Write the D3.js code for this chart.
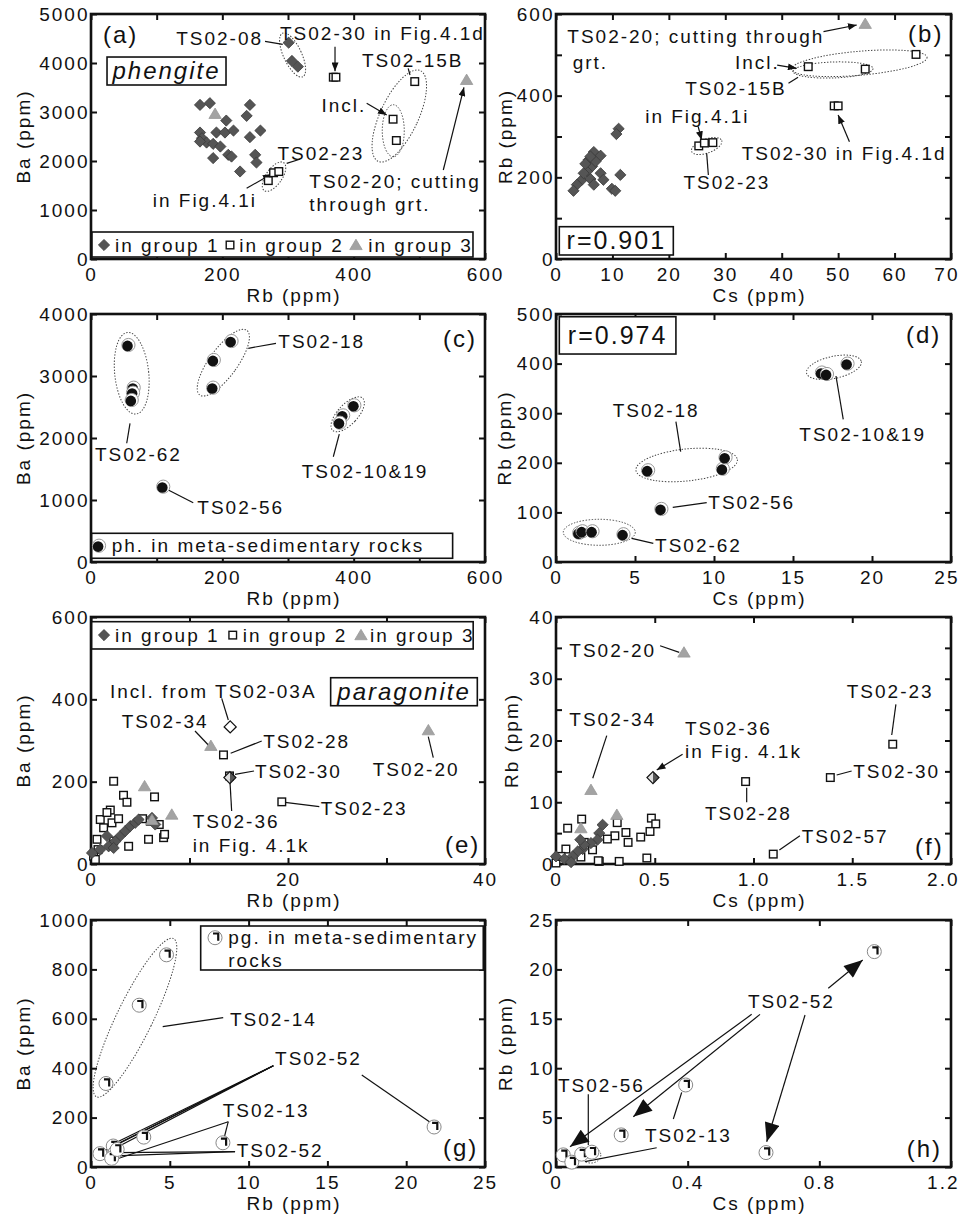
<!DOCTYPE html>
<html>
<head>
<meta charset="utf-8">
<script src="https://cdn.jsdelivr.net/npm/d3@7"></script>
<style>
  body { margin: 0; background: #fff; }
  text { font-family: 'Liberation Sans', Arial, Helvetica, sans-serif; }
</style>
</head>
<body>
<div id="chart"></div>
<script>
// ---------------- data ----------------
// (a) phengite, Rb vs Ba
var phA_group1 = [[301,4415],[306,4042],[315,3926],[166,3145],[181,3180],[242,3145],[237,2921],[206,2825],
  [166,2581],[169,2466],[191,2581],[204,2581],[217,2621],[258,2621],[242,2487],[176,2377],[186,2350],
  [197,2295],[166,2397],[186,2059],[209,2126],[214,2091],[250,2126],[252,1969],[227,1786]];
var phA_group2 = [[369,3710],[373,3710],[493,3621],[460,2853],[465,2418],[270,1600],[278,1760],[286,1785]];
var phA_group3 = [[189,2962],[572,3655]];

// (b) phengite, Cs vs Rb
var phB_group1 = [[11.1,319],[10.7,306],[6.7,262],[7.9,253],[5.8,243],[6.4,227],[5.5,214],[7.9,210],[4.6,194],
  [6.1,196],[6.7,182],[3.7,182],[3.1,167],[8.4,194],[11.4,206],[9.9,172],[10.5,167],[4.9,210],[7.0,239],
  [6.1,251],[5.2,233]];
var phB_group2 = [[44.7,471],[54.8,465],[63.8,501],[49.3,375],[50.0,375],[25.3,277],[26.3,284],[27.8,285]];
var phB_group3 = [[54.8,576]];

// (c) ph. in meta-sedimentary rocks, Rb vs Ba
var phC_sed = [[57,3500],[65,2812],[64,2731],[62,2613],[187,3258],[214,3564],[186,2812],[384,2365],
  [379,2247],[401,2527],[110,1215]];
// (d) ph. in meta-sedimentary rocks, Cs vs Rb
var phD_sed = [[1.47,59],[1.68,62],[2.31,62],[4.27,56],[5.83,185],[10.56,188],[10.73,211],[6.67,107],
  [16.83,382],[17.15,379],[18.45,400]];

// (e) paragonite, Rb vs Ba
var pgE_group1 = [[2.97,68],[3.48,80],[3.99,92],[4.49,100],[4.83,108],[1.62,68],[1.79,43],[0.94,35],[0.1,27],
  [2.46,55],[6.19,112],[6.52,96],[2.3,39]];
var pgE_group2 = [[13.45,265],[14.06,214],[19.37,151],[2.3,201],[3.3,167],[3.65,150],[6.45,163],[1.96,131],
  [0.94,108],[1.62,125],[2.13,100],[2.8,110],[1.28,88],[5.24,110],[6.02,104],[6.93,96],[5.84,60],[7.37,64],
  [7.47,72],[3.82,43],[2.3,56],[0.61,60],[0.71,35],[0.26,19],[0.44,11]];
var pgE_group3 = [[12.17,287],[34.25,325],[5.44,189],[8.2,120],[6.19,107]];
var pgE_incl = [[14.13,333]];
var pgE_ts0236 = [[14.1,210]];

// (f) paragonite, Cs vs Rb
var pgF_group1 = [[0.236,6.35],[0.219,5.0],[0.21,3.93],[0.177,3.39],[0.135,2.42],[0.143,3.12],[0.11,2.04],
  [0.084,1.23],[0.042,0.81],[0.0,1.23],[0.076,0.3],[0.123,3.93]];
var pgF_group2 = [[0.96,13.35],[1.705,19.4],[1.389,14.0],[1.1,1.6],[0.31,6.7],[0.13,7.27],[0.059,5.8],
  [0.483,7.43],[0.505,6.5],[0.476,5.27],[0.429,4.36],[0.46,0.97],[0.354,5.1],[0.365,3.5],[0.298,4.57],
  [0.26,4.04],[0.219,0.42],[0.32,0.42],[0.143,3.5],[0.185,2.3],[0.126,1.13],[0.05,2.42],[0.0,0.16],
  [0.025,1.23],[0.214,0.53]];
var pgF_group3 = [[0.648,34.25],[0.177,12.0],[0.308,7.97],[0.126,5.8]];
var pgF_ts0236 = [[0.491,14.0]];

// (g) pg. in meta-sedimentary rocks, Rb vs Ba
var pgG_sed = [[4.79,859],[3.06,655],[0.95,338],[21.77,162],[8.37,98],[3.35,121],[0.57,54],[1.41,85],
  [1.52,58],[1.31,35],[1.66,71]];
// (h) pg. in meta-sedimentary rocks, Cs vs Rb
var pgH_sed = [[0.967,21.8],[0.394,8.3],[0.198,3.25],[0.638,1.46],[0.022,1.23],[0.048,0.49],[0.078,1.3],[0.109,1.5]];

// ticks
var ticksRb600 = [0,100,200,300,400,500,600], labRb600 = [0,200,400,600];
var ticksBa5000 = [0,1000,2000,3000,4000,5000];
var ticksCs70 = [0,10,20,30,40,50,60,70];
var ticksRb600y = [0,100,200,300,400,500,600], labRb600y = [0,200,400,600];
var ticksBa4000 = [0,1000,2000,3000,4000];
var ticksCs25 = [0,5,10,15,20,25];
var ticksRb500 = [0,100,200,300,400,500];
var ticksRb40 = [0,10,20,30,40], labRb40 = [0,20,40];
var ticksBa600 = [0,200,400,600];
var ticksCs2 = [0,0.5,1,1.5,2];
var ticksRb40y = [0,5,10,15,20,25,30,35,40], labRb40y = [0,10,20,30,40];
var ticksRb25 = [0,5,10,15,20,25];
var ticksBa1000 = [0,200,400,600,800,1000];
var ticksCs12 = [0,0.4,0.8,1.2];

// ---------------- setup ----------------
var FONT = "'Liberation Sans', Arial, Helvetica, sans-serif";
var LS = 2.0;
var INK = "#111";
var PAGE_W = 961;

var svg = d3.select("#chart").append("svg")
  .attr("width", PAGE_W)
  .attr("height", 1216);

var defs = svg.append("defs");
defs.append("marker").attr("id", "arr")
  .attr("viewBox", "0 0 10 8").attr("refX", 10).attr("refY", 4)
  .attr("markerWidth", 9).attr("markerHeight", 7)
  .attr("markerUnits", "userSpaceOnUse").attr("orient", "auto")
  .append("path").attr("d", "M0,0L10,4L0,8Z").attr("fill", INK);
defs.append("marker").attr("id", "big")
  .attr("viewBox", "0 0 10 8").attr("refX", 10).attr("refY", 4)
  .attr("markerWidth", 20).attr("markerHeight", 15)
  .attr("markerUnits", "userSpaceOnUse").attr("orient", "auto")
  .append("path").attr("d", "M0,0L10,4L0,8Z").attr("fill", INK);

// one framed scatter panel with mirrored inside ticks
function makePanel(o) {
  var x = d3.scaleLinear().domain(o.xDom).range([o.left, o.left + o.w]);
  var y = d3.scaleLinear().domain(o.yDom).range([o.top + o.h, o.top]);
  var g = svg.append("g");
  var fx = o.xFmt || function(d) { return d; };
  var fy = o.yFmt || function(d) { return d; };

  var axes = g.append("g");
  var bottom = axes.append("g").attr("transform", "translate(0," + (o.top + o.h) + ")")
    .call(d3.axisBottom(x).tickValues(o.xTicks).tickSize(-6).tickPadding(9)
      .tickFormat(function(d) { return o.xLab.indexOf(d) >= 0 ? fx(d) : ""; }));
  axes.append("g").attr("transform", "translate(0," + o.top + ")")
    .call(d3.axisTop(x).tickValues(o.xTicks).tickSize(-6).tickFormat(""));
  axes.append("g").attr("transform", "translate(" + o.left + ",0)")
    .call(d3.axisLeft(y).tickValues(o.yTicks).tickSize(-6).tickPadding(1.5)
      .tickFormat(function(d) { return o.yLab.indexOf(d) >= 0 ? fy(d) : ""; }));
  axes.append("g").attr("transform", "translate(" + (o.left + o.w) + ",0)")
    .call(d3.axisRight(y).tickValues(o.yTicks).tickSize(-6).tickFormat(""));
  axes.selectAll(".domain").remove();
  axes.selectAll("g").attr("font-family", FONT).attr("font-size", 19);
  axes.selectAll(".tick line").attr("stroke", INK).attr("stroke-width", 2);
  axes.selectAll(".tick text").attr("fill", INK).attr("letter-spacing", LS);

  // keep the last x label inside the page
  bottom.selectAll(".tick").each(function(d) {
    var t = d3.select(this).select("text");
    var b = t.node().getBBox();
    var right = x(d) + b.x + b.width;
    if (right > PAGE_W - 2) t.attr("x", -(right - (PAGE_W - 2)));
  });

  g.append("rect")
    .attr("x", o.left).attr("y", o.top).attr("width", o.w).attr("height", o.h)
    .attr("fill", "none").attr("stroke", INK).attr("stroke-width", 2.6);

  // axis titles
  g.append("text")
    .attr("x", o.left + o.w / 2 + 6).attr("y", o.top + o.h + 43)
    .attr("text-anchor", "middle").attr("font-size", 19).attr("letter-spacing", LS)
    .attr("fill", INK).text(o.xTitle);
  g.append("text")
    .attr("transform", "translate(" + (o.left - o.yOff) + "," + (o.top + o.h / 2) + ") rotate(-90)")
    .attr("dy", "0.35em")
    .attr("text-anchor", "middle").attr("font-size", 19).attr("letter-spacing", LS)
    .attr("fill", INK).text(o.yTitle);

  return { g: g, x: x, y: y, under: g.append("g"), marks: g.append("g"), over: g.append("g") };
}

// marker shapes
function grp1(s) {
  s.append("path").attr("d", "M0,-5.6L5.6,0L0,5.6L-5.6,0Z")
    .attr("fill", "#555").attr("stroke", "#3a3a3a").attr("stroke-width", 0.8);
}
function grp2(s) {
  s.append("rect").attr("x", -3.8).attr("y", -3.8).attr("width", 7.6).attr("height", 7.6)
    .attr("fill", "#fff").attr("stroke", INK).attr("stroke-width", 1.4);
}
function grp3(s) {
  s.append("path").attr("d", "M0,-5.8L6.2,4.6L-6.2,4.6Z")
    .attr("fill", "#a3a3a3").attr("stroke", "#999").attr("stroke-width", 0.8);
}
function openDiamond(s) {
  s.append("path").attr("d", "M0,-6L6,0L0,6L-6,0Z")
    .attr("fill", "#fff").attr("stroke", INK).attr("stroke-width", 1.3);
}
function splitDiamond(s) {
  s.append("path").attr("d", "M0,-6L6,0L0,6Z").attr("fill", "#555");
  s.append("path").attr("d", "M0,-6L-6,0L0,6Z").attr("fill", "#ddd");
  s.append("path").attr("d", "M0,-6L6,0L0,6L-6,0Z")
    .attr("fill", "none").attr("stroke", INK).attr("stroke-width", 1.2);
}
function sedPh(s) {
  s.append("circle").attr("r", 6.6).attr("fill", "#fff").attr("stroke", "#999").attr("stroke-width", 1);
  s.append("circle").attr("r", 5.3).attr("cx", -0.9).attr("cy", 0.9).attr("fill", INK);
}
function sedPg(s) {
  s.append("circle").attr("r", 7).attr("fill", "#fff").attr("stroke", "#888").attr("stroke-width", 1);
  s.append("path").attr("d", "M-2,-4.2H3.2V3").attr("fill", "none")
    .attr("stroke", INK).attr("stroke-width", 2.2);
}

function plot(p, data, shape) {
  p.marks.selectAll(null).data(data).enter().append("g")
    .attr("transform", function(d) { return "translate(" + p.x(d[0]) + "," + p.y(d[1]) + ")"; })
    .each(function() { shape(d3.select(this)); });
}

// annotations, all positioned in data units
function notes(p, list) {
  list.forEach(function(n) {
    p.over.append("text")
      .attr("x", p.x(n.at[0])).attr("y", p.y(n.at[1])).attr("dy", "0.35em")
      .attr("text-anchor", n.anchor || "start")
      .attr("font-size", n.size || 19)
      .attr("letter-spacing", LS)
      .attr("font-style", n.italic ? "italic" : null)
      .attr("fill", INK)
      .text(n.t);
  });
}
function leaders(p, list) {
  list.forEach(function(l) {
    p.under.append("line")
      .attr("x1", p.x(l[0][0])).attr("y1", p.y(l[0][1]))
      .attr("x2", p.x(l[1][0])).attr("y2", p.y(l[1][1]))
      .attr("stroke", INK).attr("stroke-width", 1.2)
      .attr("marker-end", l[2] ? "url(#" + l[2] + ")" : null);
  });
}
function rings(p, list) {
  list.forEach(function(r) {
    p.under.append("ellipse")
      .attr("rx", r.r[0]).attr("ry", r.r[1])
      .attr("transform", "translate(" + p.x(r.c[0]) + "," + p.y(r.c[1]) + ") rotate(" + (r.rot || 0) + ")")
      .attr("fill", "none").attr("stroke", "#444").attr("stroke-width", 1)
      .attr("stroke-dasharray", "1.4,1.6");
  });
}
function boxes(p, list, layer) {
  list.forEach(function(b) {
    (layer || p.under).append("rect")
      .attr("x", p.x(b[0][0])).attr("y", p.y(b[0][1]))
      .attr("width", p.x(b[1][0]) - p.x(b[0][0]))
      .attr("height", p.y(b[1][1]) - p.y(b[0][1]))
      .attr("fill", "#fff").attr("stroke", INK).attr("stroke-width", 1.6);
  });
}
function legendItems(p, items) {
  items.forEach(function(it) {
    var s = p.over.append("g").attr("transform", "translate(" + p.x(it.at[0]) + "," + p.y(it.at[1]) + ")");
    it.shape(s);
  });
}

var oneDec = function(d) { return d === 0 ? "0" : d.toFixed(1); };

// ---------------- (a) ----------------
var pa = makePanel({ left: 91, top: 14, w: 394, h: 245, xDom: [0, 600], yDom: [0, 5000],
  xTicks: ticksRb600, xLab: labRb600, yTicks: ticksBa5000, yLab: ticksBa5000,
  xTitle: "Rb (ppm)", yTitle: "Ba (ppm)", yOff: 68 });
boxes(pa, [[[24.4, 4122], [205.6, 3551]], [[1.5, 551], [581.7, 40.8]]]);
rings(pa, [
  { c: [307, 4163], r: [9, 24], rot: -25 },
  { c: [469.5, 2918], r: [19, 50], rot: 25 },
  { c: [460.3, 2618], r: [11, 26] },
  { c: [278.7, 1680], r: [8, 17], rot: 35 }]);
leaders(pa, [
  [[265, 4440], [292, 4380]],
  [[371.6, 4333], [371.6, 3830], "arr"],
  [[483, 3892], [485.8, 3755]],
  [[419.8, 3178], [450.3, 2939], "arr"],
  [[298, 1953], [318, 2035]],
  [[237, 1443], [275, 1735], "arr"],
  [[536.5, 1816], [568, 3504], "arr"]]);
plot(pa, phA_group1, grp1);
plot(pa, phA_group2, grp2);
plot(pa, phA_group3, grp3);
notes(pa, [
  { t: "(a)", at: [18.3, 4571], size: 24 },
  { t: "TS02-08", at: [262, 4510], anchor: "end" },
  { t: "TS02-30 in Fig.4.1d", at: [287.8, 4612] },
  { t: "TS02-15B", at: [412.7, 4061] },
  { t: "Incl.", at: [351, 3143] },
  { t: "TS02-23", at: [284, 2157] },
  { t: "in Fig.4.1i", at: [94, 1204] },
  { t: "TS02-20; cutting", at: [332.5, 1578] },
  { t: "through grt.", at: [332.5, 1122] },
  { t: "phengite", at: [115, 3837], anchor: "middle", size: 24, italic: true },
  { t: "in group 1", at: [36.5, 285.7] },
  { t: "in group 2", at: [225.8, 285.7] },
  { t: "in group 3", at: [422.3, 285.7] }]);
legendItems(pa, [
  { at: [19.8, 285.7], shape: grp1 },
  { at: [211.7, 285.7], shape: grp2 },
  { at: [403.5, 285.7], shape: grp3 }]);

// ---------------- (b) ----------------
var pb = makePanel({ left: 556, top: 14, w: 395, h: 245, xDom: [0, 70], yDom: [0, 600],
  xTicks: ticksCs70, xLab: ticksCs70, yTicks: ticksRb600y, yLab: labRb600y,
  xTitle: "Cs (ppm)", yTitle: "Rb (ppm)", yOff: 51 });
boxes(pb, [[[0.585, 79.1], [20.79, 9.8]]]);
rings(pb, [
  { c: [53.75, 479.3], r: [68, 12], rot: -5 },
  { c: [49.1, 462.9], r: [40, 8], rot: -2 },
  { c: [26.7, 276.7], r: [16, 7], rot: -20 }]);
leaders(pb, [
  [[47.4, 556.7], [53.3, 573], "arr"],
  [[39.2, 475], [42.65, 467], "arr"],
  [[41.2, 430.3], [42.9, 445]],
  [[25.2, 324], [25.8, 291.4], "arr"],
  [[27.0, 205.7], [26.7, 258.9]],
  [[52.0, 287.3], [50.0, 352.7], "arr"]]);
plot(pb, phB_group1, grp1);
plot(pb, phB_group2, grp2);
plot(pb, phB_group3, grp3);
notes(pb, [
  { t: "(b)", at: [62.4, 552.7], size: 24 },
  { t: "TS02-20; cutting through", at: [2.0, 544.4] },
  { t: "grt.", at: [2.96, 480.7] },
  { t: "Incl.", at: [31.7, 480.7] },
  { t: "TS02-15B", at: [22.9, 418] },
  { t: "in Fig.4.1i", at: [15.8, 348.5] },
  { t: "TS02-23", at: [22.6, 186.9] },
  { t: "TS02-30 in Fig.4.1d", at: [32.9, 258.9] },
  { t: "r=0.901", at: [10.69, 44.8], anchor: "middle", size: 25 }]);

// ---------------- (c) ----------------
var pc = makePanel({ left: 91, top: 314, w: 394, h: 248, xDom: [0, 600], yDom: [0, 4000],
  xTicks: ticksRb600, xLab: labRb600, yTicks: ticksBa4000, yLab: ticksBa4000,
  xTitle: "Rb (ppm)", yTitle: "Ba (ppm)", yOff: 68 });
boxes(pc, [[[1.07, 463], [550.7, 60]]]);
rings(pc, [
  { c: [62, 3044], r: [17, 41], rot: -6 },
  { c: [201.5, 3215], r: [14, 40], rot: 36 },
  { c: [390.9, 2382], r: [10, 22], rot: 43 }]);
leaders(pc, [
  [[239.5, 3447], [281.7, 3527]],
  [[59.4, 2237], [54.4, 1915]],
  [[378.1, 2064], [369, 1698]],
  [[117.7, 1161], [155.7, 956]]]);
plot(pc, phC_sed, sedPh);
notes(pc, [
  { t: "(c)", at: [536, 3608], size: 24 },
  { t: "TS02-18", at: [285.2, 3553] },
  { t: "TS02-62", at: [6.1, 1742] },
  { t: "TS02-10&19", at: [320.9, 1456] },
  { t: "TS02-56", at: [161.9, 882] },
  { t: "ph. in meta-sedimentary rocks", at: [31.5, 263] }]);
legendItems(pc, [{ at: [12.2, 263], shape: sedPh }]);

// ---------------- (d) ----------------
var pd = makePanel({ left: 556, top: 314, w: 395, h: 248, xDom: [0, 25], yDom: [0, 500],
  xTicks: ticksCs25, xLab: ticksCs25, yTicks: ticksRb500, yLab: ticksRb500,
  xTitle: "Cs (ppm)", yTitle: "Rb (ppm)", yOff: 52 });
boxes(pd, [[[0.209, 494.5], [7.59, 419.3]]]);
rings(pd, [
  { c: [17.59, 392.5], r: [28, 11], rot: -12 },
  { c: [8.27, 195.6], r: [51, 16], rot: -6 },
  { c: [2.74, 59.9], r: [36, 13] }]);
leaders(pd, [
  [[17.72, 375], [18.18, 287.7]],
  [[7.59, 282.9], [7.89, 222.4]],
  [[7.39, 110.3], [9.54, 119.6]],
  [[4.79, 47.8], [6.16, 37.7]]]);
plot(pd, phD_sed, sedPh);
notes(pd, [
  { t: "(d)", at: [22.15, 457.7], size: 24 },
  { t: "r=0.974", at: [3.9, 457], anchor: "middle", size: 25 },
  { t: "TS02-10&19", at: [15.4, 258] },
  { t: "TS02-18", at: [3.59, 305] },
  { t: "TS02-56", at: [9.64, 119.6] },
  { t: "TS02-62", at: [6.27, 34.3] }]);

// ---------------- (e) ----------------
var pe = makePanel({ left: 91, top: 617, w: 394, h: 247, xDom: [0, 40], yDom: [0, 600],
  xTicks: ticksRb40, xLab: labRb40, yTicks: ticksBa600, yLab: ticksBa600,
  xTitle: "Rb (ppm)", yTitle: "Ba (ppm)", yOff: 68 });
boxes(pe, [[[24.33, 452.5], [39.22, 384.5]], [[0.07, 588.6], [38.8, 522.3]]]);
leaders(pe, [
  [[13.27, 402.5], [13.94, 349.8]],
  [[10.56, 323], [11.91, 289]],
  [[14.18, 268.9], [17.33, 298.8]],
  [[14.62, 217.9], [16.55, 225.9]],
  [[14.11, 199.9], [14.28, 128.7]],
  [[19.7, 149.9], [23.18, 139.2]],
  [[34.24, 309.2], [34.75, 258.2]]]);
plot(pe, pgE_group2, grp2);
plot(pe, pgE_group1, grp1);
plot(pe, pgE_group3, grp3);
plot(pe, pgE_incl, openDiamond);
plot(pe, pgE_ts0236, splitDiamond);
notes(pe, [
  { t: "(e)", at: [35.94, 46.2], size: 24 },
  { t: "Incl. from TS02-03A", at: [1.93, 420.2] },
  { t: "paragonite", at: [31.78, 418.5], anchor: "middle", size: 24, italic: true },
  { t: "TS02-34", at: [3.12, 345.7] },
  { t: "TS02-28", at: [17.49, 298.8] },
  { t: "TS02-30", at: [16.65, 224.2] },
  { t: "TS02-36", at: [10.32, 102.8] },
  { t: "in Fig. 4.1k", at: [10.32, 46.2] },
  { t: "TS02-23", at: [23.32, 135.3] },
  { t: "TS02-20", at: [28.6, 230.8] },
  { t: "in group 1", at: [2.44, 556] },
  { t: "in group 2", at: [15.4, 556] },
  { t: "in group 3", at: [28.32, 556] }]);
legendItems(pe, [
  { at: [1.32, 556], shape: grp1 },
  { at: [14.39, 556], shape: grp2 },
  { at: [27.41, 556], shape: grp3 }]);

// ---------------- (f) ----------------
var pf = makePanel({ left: 556, top: 617, w: 395, h: 247, xDom: [0, 2], yDom: [0, 40],
  xTicks: ticksCs2, xLab: ticksCs2, xFmt: oneDec, yTicks: ticksRb40y, yLab: labRb40y,
  xTitle: "Cs (ppm)", yTitle: "Rb (ppm)", yOff: 45 });
leaders(pf, [
  [[0.527, 35.35], [0.624, 34.28]],
  [[0.257, 20.78], [0.186, 13.88]],
  [[0.641, 17.76], [0.51, 15.22], "arr"],
  [[1.721, 25.86], [1.7, 20.89]],
  [[1.421, 14.41], [1.497, 15.06]],
  [[0.9655, 12.36], [0.9655, 9.99]],
  [[1.131, 2.27], [1.235, 4.58]]]);
plot(pf, pgF_group2, grp2);
plot(pf, pgF_group1, grp1);
plot(pf, pgF_group3, grp3);
plot(pf, pgF_ts0236, splitDiamond);
notes(pf, [
  { t: "(f)", at: [1.818, 2.8], size: 24 },
  { t: "TS02-20", at: [0.0673, 34.66] },
  { t: "TS02-34", at: [0.0673, 23.48] },
  { t: "TS02-36", at: [0.653, 21.98] },
  { t: "in Fig. 4.1k", at: [0.653, 18.19] },
  { t: "TS02-23", at: [1.472, 27.9] },
  { t: "TS02-30", at: [1.505, 15.06] },
  { t: "TS02-28", at: [0.754, 8.21] },
  { t: "TS02-57", at: [1.244, 4.42] }]);

// ---------------- (g) ----------------
var pg = makePanel({ left: 91, top: 920, w: 394, h: 247, xDom: [0, 25], yDom: [0, 1000],
  xTicks: ticksRb25, xLab: ticksRb25, yTicks: ticksBa1000, yLab: ticksBa1000,
  xTitle: "Rb (ppm)", yTitle: "Ba (ppm)", yOff: 68 });
rings(pg, [
  { c: [2.79, 604.5], r: [18, 88], rot: 26 },
  { c: [1.52, 64.8], r: [8, 6] }]);
leaders(pg, [
  [[8.39, 604.5], [4.55, 568]],
  [[11.57, 410], [0.75, 62]],
  [[11.57, 410], [1.3, 90]],
  [[11.57, 410], [1.5, 88]],
  [[11.57, 410], [1.65, 80]],
  [[17.18, 372.5], [21.61, 177]],
  [[8.71, 183.4], [8.44, 116.2]],
  [[8.71, 183.4], [1.63, 32.4]],
  [[9.14, 62], [1.55, 58]],
  [[9.14, 62], [1.5, 45]]]);
plot(pg, pgG_sed, sedPg);
boxes(pg, [[[6.96, 975.7], [24.89, 797.6]]], pg.over);
notes(pg, [
  { t: "(g)", at: [22.33, 76.9], size: 24 },
  { t: "TS02-14", at: [8.82, 599.2] },
  { t: "TS02-52", at: [11.68, 440] },
  { t: "TS02-13", at: [8.36, 230.8] },
  { t: "TS02-52", at: [9.25, 68.8] },
  { t: "pg. in meta-sedimentary", at: [8.71, 928.3] },
  { t: "rocks", at: [8.71, 838] }]);
legendItems(pg, [{ at: [7.87, 928.3], shape: sedPg }]);

// ---------------- (h) ----------------
var ph = makePanel({ left: 556, top: 920, w: 395, h: 247, xDom: [0, 1.2], yDom: [0, 25],
  xTicks: ticksCs12, xLab: ticksCs12, xFmt: oneDec, yTicks: ticksRb25, yLab: ticksRb25,
  xTitle: "Cs (ppm)", yTitle: "Rb (ppm)", yOff: 51 });
rings(ph, [{ c: [0.1057, 1.21], r: [10, 8] }]);
leaders(ph, [
  [[0.8272, 18.09], [0.9318, 20.95], "big"],
  [[0.5945, 15.45], [0.0425, 2.05], "big"],
  [[0.6198, 15.45], [0.2348, 5.09], "big"],
  [[0.7565, 15.38], [0.6401, 2.56], "big"],
  [[0.0981, 7.36], [0.0981, 2.23]],
  [[0.3819, 7.56], [0.3564, 4.86]],
  [[0.3059, 1.95], [0.0881, 0.54]]]);
plot(ph, pgH_sed, sedPg);
notes(ph, [
  { t: "(h)", at: [1.0655, 1.89], size: 24 },
  { t: "TS02-52", at: [0.5833, 16.8] },
  { t: "TS02-56", at: [0.006, 8.3] },
  { t: "TS02-13", at: [0.2704, 3.17] }]);
</script>
</body>
</html>
